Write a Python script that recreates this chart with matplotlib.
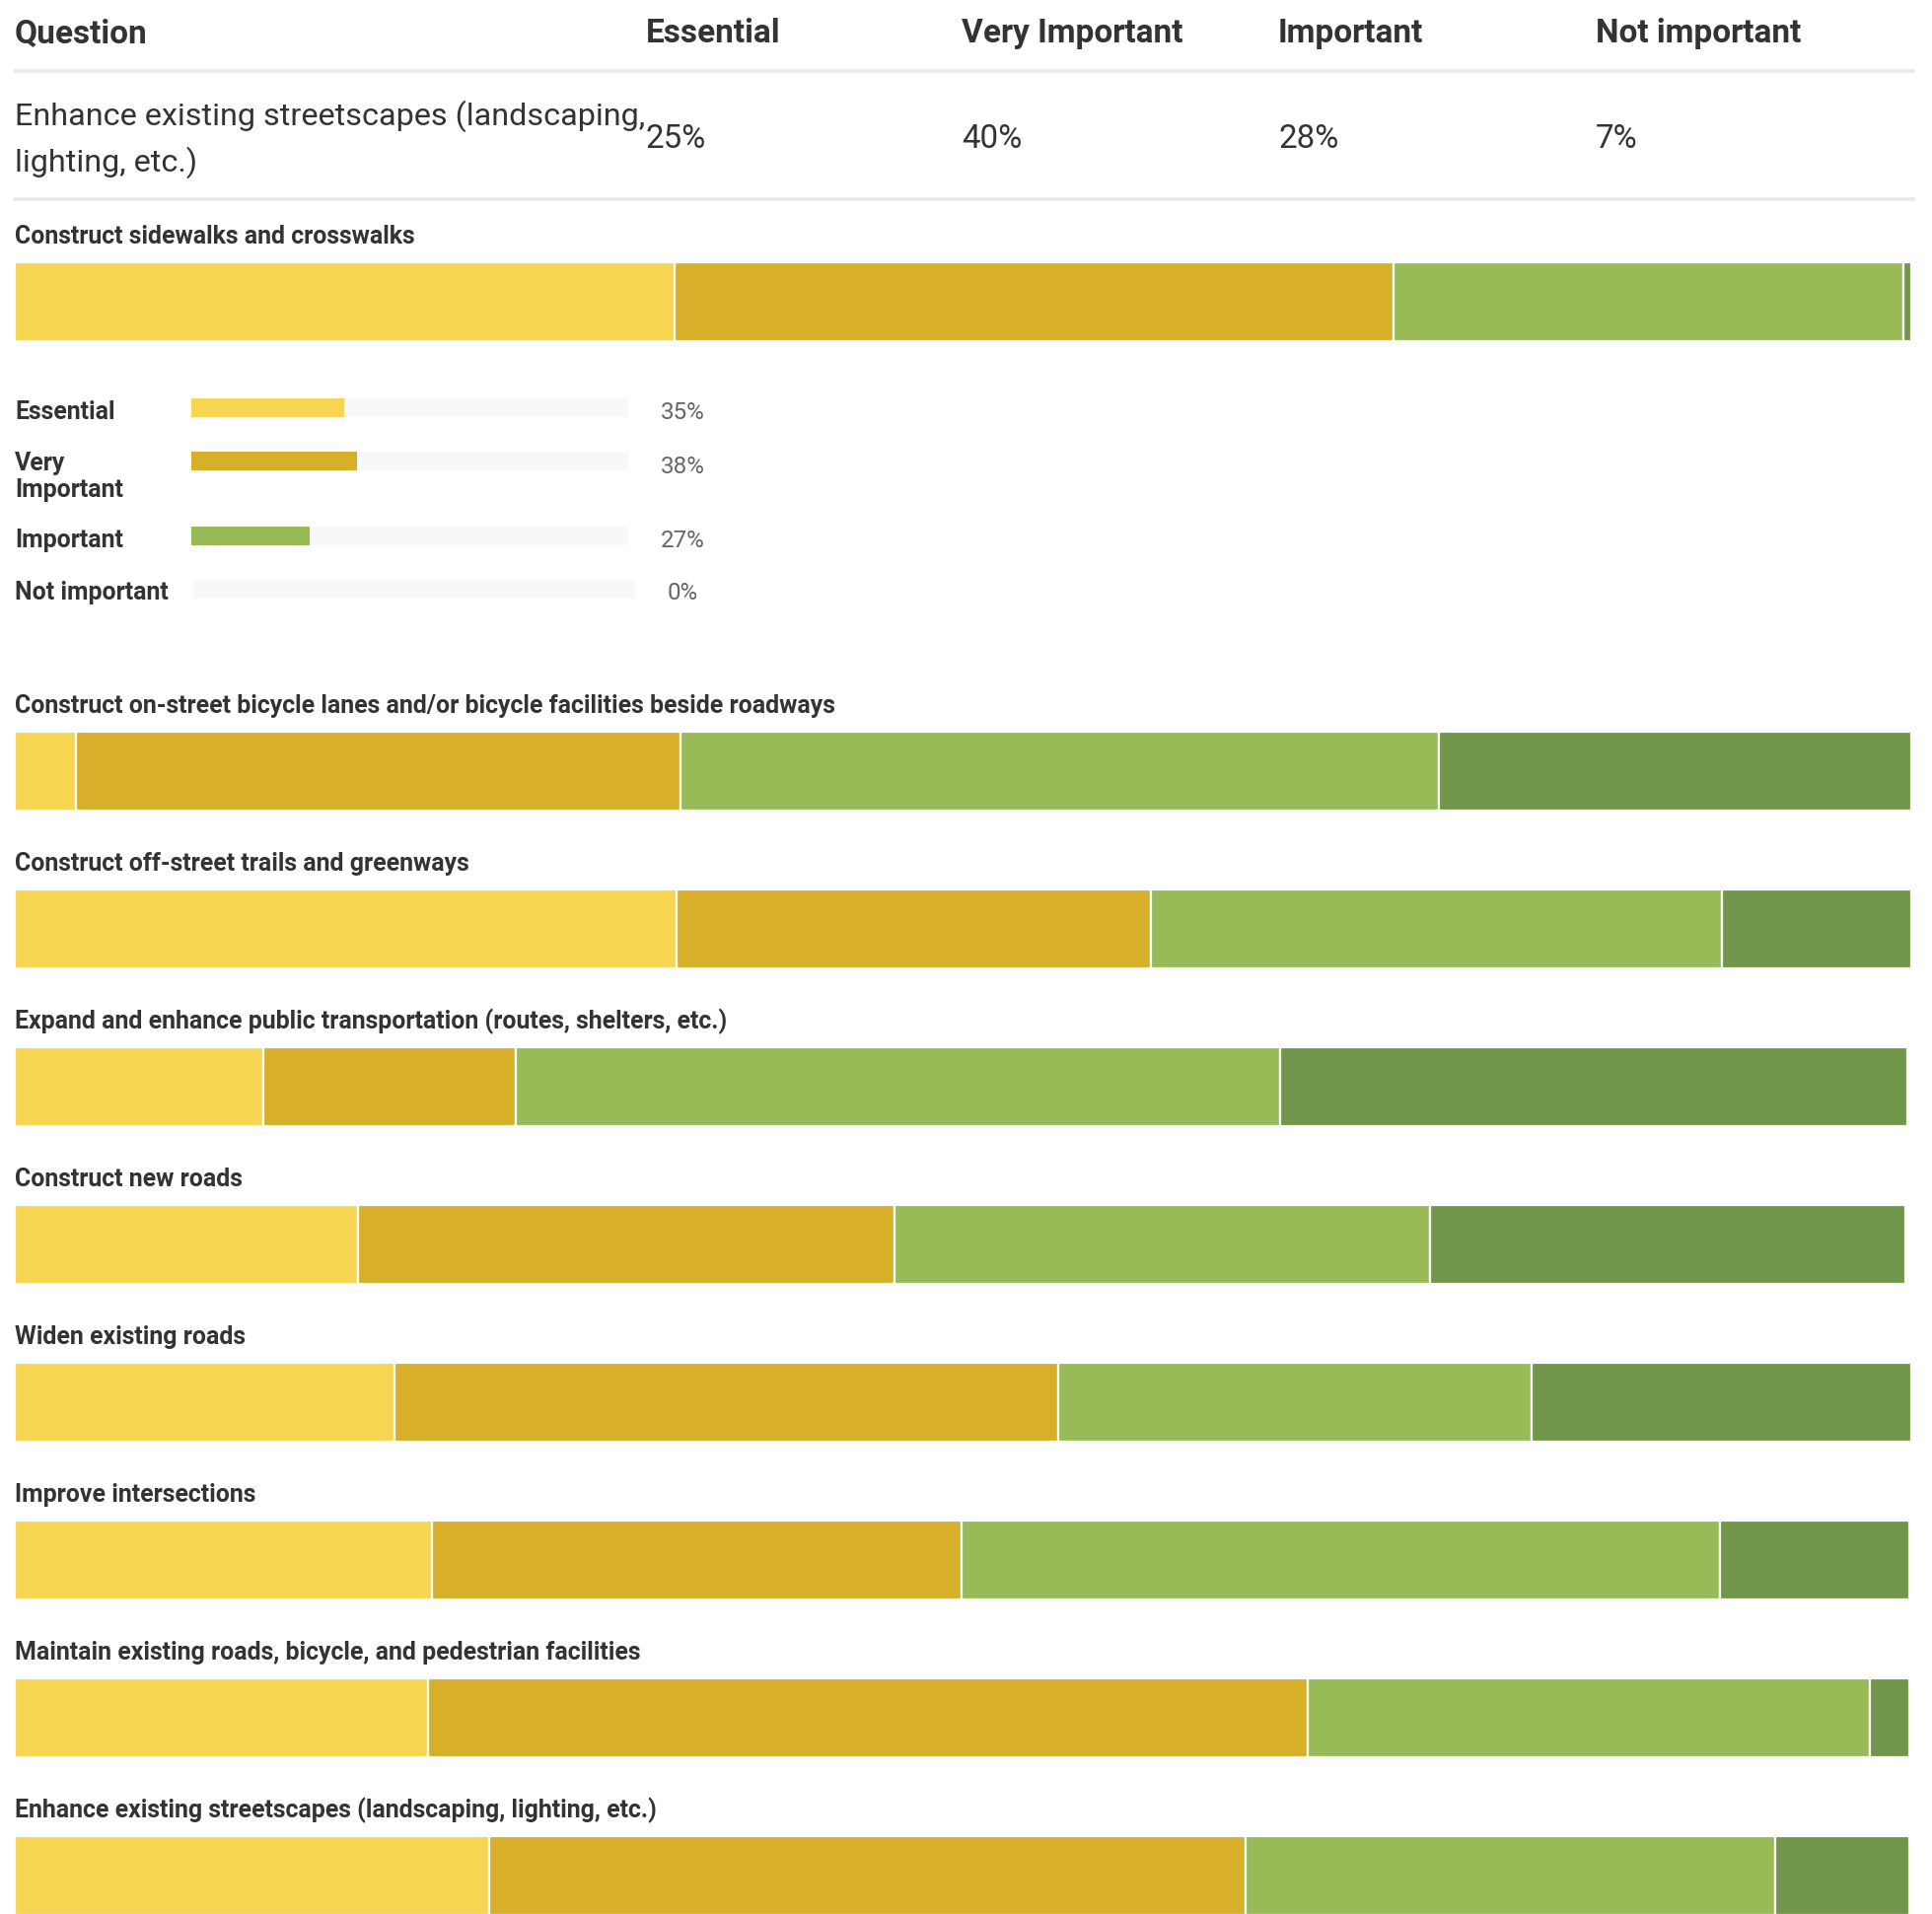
import matplotlib
matplotlib.use("Agg")
import matplotlib.pyplot as plt
from matplotlib.lines import Line2D

plt.rcParams['font.family'] = ['Roboto', 'DejaVu Sans']

# ---------------- data ----------------
categories = ["Essential", "Very Important", "Important", "Not important"]
questions = [
    "Construct sidewalks and crosswalks",
    "Construct on-street bicycle lanes and/or bicycle facilities beside roadways",
    "Construct off-street trails and greenways",
    "Expand and enhance public transportation (routes, shelters, etc.)",
    "Construct new roads",
    "Widen existing roads",
    "Improve intersections",
    "Maintain existing roads, bicycle, and pedestrian facilities",
    "Enhance existing streetscapes (landscaping, lighting, etc.)",
]
essential      = [34.8,  3.2, 34.9, 13.1, 18.1, 20.0, 22.0, 21.8, 25.0]
very_important = [37.9, 31.9, 25.0, 13.3, 28.3, 35.0, 27.9, 46.4, 39.9]
important      = [26.9, 40.0, 30.1, 40.3, 28.2, 25.0, 40.0, 29.6, 27.9]
not_important  = [ 0.4, 24.9, 10.0, 33.1, 25.1, 20.0, 10.0,  2.1,  7.1]

table_question = "Enhance existing streetscapes (landscaping,\nlighting, etc.)"
table_index = 8      # row shown in the table
tooltip_index = 0    # row shown in the hover breakdown
tooltip_labels = ["Essential", "Very\nImportant", "Important", "Not important"]

# ---------------- style ----------------
colors = ["#F6D550", "#D8AF29", "#98BB58", "#6F964A"]
TEXT = "#333333"
W, H = 1959, 1941

fig = plt.figure(figsize=(W / 100, H / 100), dpi=100)
fig.patch.set_facecolor("white")


def fx(x):
    return x / W


def fy(y):
    return 1 - y / H


def ftext(x, y, s, **kw):
    fig.text(fx(x), fy(y), s, **kw)


series = [essential, very_important, important, not_important]

# ---------------- table header ----------------
col_x = [655, 975, 1296, 1618]
HEAD_FS = 24
ftext(15, 43, "Question", fontsize=HEAD_FS, fontweight="bold", color=TEXT, va="baseline")
for cx, c in zip(col_x, categories):
    ftext(cx, 43, c, fontsize=HEAD_FS, fontweight="bold", color=TEXT, va="baseline")

for ly in (71.5, 201.5):
    fig.add_artist(Line2D([fx(15), fx(1940)], [fy(ly), fy(ly)], transform=fig.transFigure,
                          color="#E8EAEA", linewidth=2.6))

BODY_FS = 23.3
lines = table_question.split("\n")
ftext(15, 127, lines[0], fontsize=BODY_FS, color=TEXT, va="baseline")
ftext(15, 174, lines[1], fontsize=BODY_FS, color=TEXT, va="baseline")
for cx, s in zip(col_x, series):
    ftext(cx, 150, f"{round(s[table_index])}%", fontsize=BODY_FS + 0.5, color=TEXT, va="baseline")

# ---------------- stacked bars ----------------
bar_left, bar_w, bar_h = 15, 1923, 80
tops = [266] + [742 + 160 * i for i in range(len(questions) - 1)]
TITLE_FS = 17.9

for i, q in enumerate(questions):
    top = tops[i]
    ftext(15, top - 19, q, fontsize=TITLE_FS, fontweight="bold", color=TEXT, va="baseline")
    ax = fig.add_axes([fx(bar_left), fy(top + bar_h), bar_w / W, bar_h / H])
    left = 0.0
    for s, c in zip(series, colors):
        ax.barh(0, s[i], left=left, height=1.0, color=c, edgecolor="white", linewidth=1.6)
        left += s[i]
    ax.set_xlim(0, 100)
    ax.set_ylim(-0.5, 0.5)
    ax.axis("off")

# ---------------- hover breakdown ----------------
tt_bar = [(404, 423), (458, 477), (534, 553), (588, 607)]
tt_label_base = [425, 477, 555, 608]
tt_pct_base = [425, 480, 555, 608]
for k, (lab, (y0, y1)) in enumerate(zip(tooltip_labels, tt_bar)):
    x0, x1 = (194, 637) if k < 3 else (196, 644)
    ax = fig.add_axes([fx(x0), fy(y1), (x1 - x0) / W, (y1 - y0) / H])
    ax.barh(0, 100, height=1.0, color="#F8F8F8")
    val = round(series[k][tooltip_index])
    if val > 0:
        ax.barh(0, val, height=1.0, color=colors[k])
    ax.set_xlim(0, 100)
    ax.set_ylim(-0.5, 0.5)
    ax.axis("off")
    parts = lab.split("\n")
    for j, p in enumerate(parts):
        ftext(15, tt_label_base[k] + 27 * j, p, fontsize=TITLE_FS, fontweight="bold",
              color=TEXT, va="baseline")
    ftext(692, tt_pct_base[k], f"{val}%", fontsize=17.4, color="#666666",
          va="baseline", ha="center")

fig.savefig("out.png", dpi=100, facecolor="white")
